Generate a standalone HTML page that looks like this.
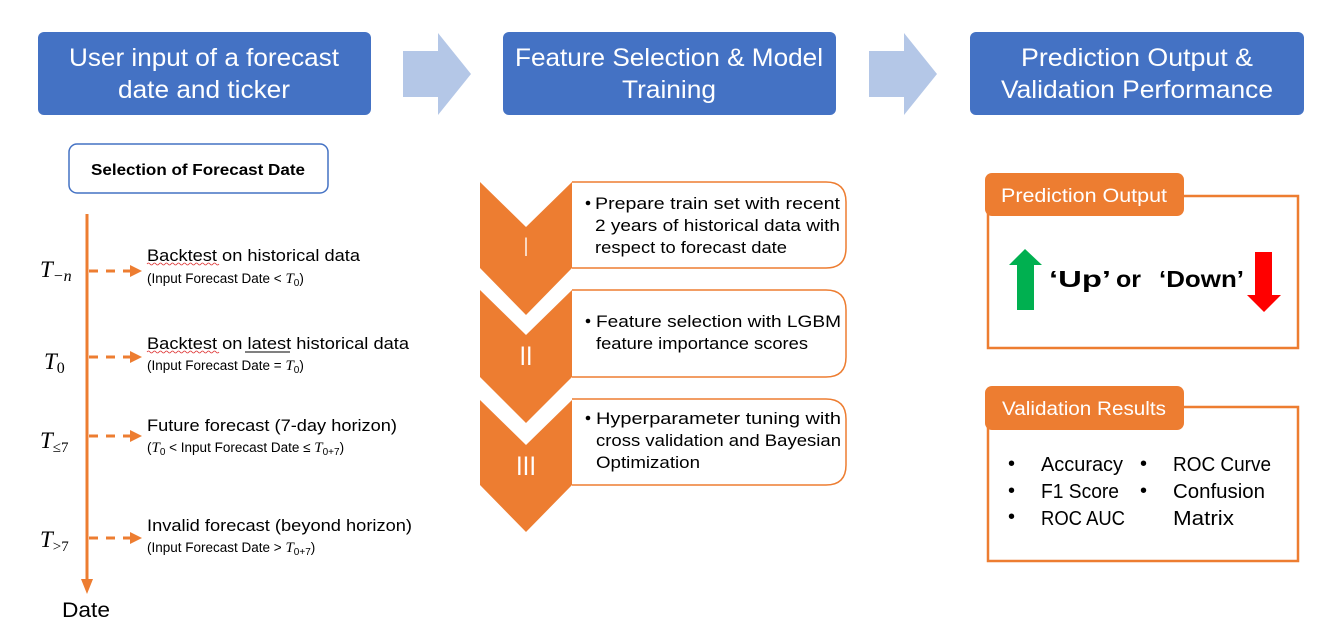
<!DOCTYPE html>
<html><head><meta charset="utf-8"><style>
html,body{margin:0;padding:0;background:#fff;}
svg{display:block;font-family:"Liberation Sans",sans-serif;}
.m{font-family:"Liberation Serif",serif;font-style:italic;}
</style></head><body>
<svg width="1321" height="636" viewBox="0 0 1321 636" xmlns="http://www.w3.org/2000/svg">
<defs><marker id="ah" markerWidth="12" markerHeight="12" refX="10" refY="6" orient="auto" markerUnits="userSpaceOnUse"><path d="M0,0 L12,6 L0,12 Z" fill="#ED7D31"/></marker></defs>
<rect x="38" y="32" width="333" height="83" rx="6" fill="#4472C4"/>
<rect x="503" y="32" width="333" height="83" rx="6" fill="#4472C4"/>
<rect x="970" y="32" width="334" height="83" rx="6" fill="#4472C4"/>
<g fill="#fff" font-size="25" text-anchor="middle">
<text x="204" y="66" textLength="270" lengthAdjust="spacingAndGlyphs">User input of a forecast</text>
<text x="204" y="98" textLength="172" lengthAdjust="spacingAndGlyphs">date and ticker</text>
<text x="669" y="66" textLength="308" lengthAdjust="spacingAndGlyphs">Feature Selection &amp; Model</text>
<text x="669" y="98" textLength="94" lengthAdjust="spacingAndGlyphs">Training</text>
<text x="1137" y="66" textLength="232" lengthAdjust="spacingAndGlyphs">Prediction Output &amp;</text>
<text x="1137" y="98" textLength="272" lengthAdjust="spacingAndGlyphs">Validation Performance</text>
</g>
<path d="M403,51 L438,51 L438,33 L471,74 L438,115 L438,97 L403,97 Z" fill="#B4C7E7"/>
<path d="M869,51 L904,51 L904,33 L937,74 L904,115 L904,97 L869,97 Z" fill="#B4C7E7"/>
<rect x="69" y="144" width="259" height="49" rx="8" fill="#fff" stroke="#4472C4" stroke-width="1.5"/>
<text x="198" y="175" font-size="16" font-weight="bold" text-anchor="middle" textLength="214" lengthAdjust="spacingAndGlyphs">Selection of Forecast Date</text>
<line x1="87" y1="214" x2="87" y2="580" stroke="#ED7D31" stroke-width="3"/>
<path d="M81,579 L93,579 L87,594 Z" fill="#ED7D31"/>
<text x="62" y="617" font-size="21" textLength="48" lengthAdjust="spacingAndGlyphs">Date</text>
<g stroke="#ED7D31" stroke-width="3" stroke-dasharray="9,8" marker-end="url(#ah)">
<line x1="89" y1="271" x2="140" y2="271"/>
<line x1="89" y1="357" x2="140" y2="357"/>
<line x1="89" y1="436" x2="140" y2="436"/>
<line x1="89" y1="538" x2="140" y2="538"/>
</g>
<g font-size="23" class="m">
<text x="40" y="277">T<tspan font-size="16" dy="4">−n</tspan></text>
<text x="44" y="369">T<tspan font-size="16" dy="4" font-style="normal">0</tspan></text>
<text x="40" y="448">T<tspan font-size="15" dy="4" font-style="normal">≤7</tspan></text>
<text x="40" y="547">T<tspan font-size="15" dy="4" font-style="normal">&gt;7</tspan></text>
</g>
<g font-size="17">
<text x="147" y="261" textLength="213" lengthAdjust="spacingAndGlyphs">Backtest on historical data</text>
<text x="147" y="349" textLength="262" lengthAdjust="spacingAndGlyphs">Backtest on latest historical data</text>
<line x1="245" y1="352" x2="290" y2="352" stroke="#000" stroke-width="1"/>
<text x="147" y="431" textLength="250" lengthAdjust="spacingAndGlyphs">Future forecast (7-day horizon)</text>
<text x="147" y="531" textLength="265" lengthAdjust="spacingAndGlyphs">Invalid forecast (beyond horizon)</text>
</g>
<path d="M147,264 q1.5,-2 3,0 t3,0 t3,0 t3,0 t3,0 t3,0 t3,0 t3,0 t3,0 t3,0 t3,0 t3,0 t3,0 t3,0 t3,0 t3,0 t3,0 t3,0 t3,0 t3,0 t3,0 t3,0 t3,0 t3,0" fill="none" stroke="#d33" stroke-width="0.8"/>
<path d="M147,352 q1.5,-2 3,0 t3,0 t3,0 t3,0 t3,0 t3,0 t3,0 t3,0 t3,0 t3,0 t3,0 t3,0 t3,0 t3,0 t3,0 t3,0 t3,0 t3,0 t3,0 t3,0 t3,0 t3,0 t3,0 t3,0" fill="none" stroke="#d33" stroke-width="0.8"/>
<g font-size="13.5">
<text x="147" y="283">(Input Forecast Date &lt; <tspan class="m" font-size="15">T</tspan><tspan font-size="10" dy="3">0</tspan><tspan dy="-3">)</tspan></text>
<text x="147" y="370">(Input Forecast Date = <tspan class="m" font-size="15">T</tspan><tspan font-size="10" dy="3">0</tspan><tspan dy="-3">)</tspan></text>
<text x="147" y="452">(<tspan class="m" font-size="15">T</tspan><tspan font-size="10" dy="3">0</tspan><tspan dy="-3"> &lt; Input Forecast Date ≤ </tspan><tspan class="m" font-size="15">T</tspan><tspan font-size="10" dy="3">0+7</tspan><tspan dy="-3">)</tspan></text>
<text x="147" y="552">(Input Forecast Date &gt; <tspan class="m" font-size="15">T</tspan><tspan font-size="10" dy="3">0+7</tspan><tspan dy="-3">)</tspan></text>
</g>
<g fill="#ED7D31">
<path d="M480,182 L526,227 L572,182 L572,268 L526,315 L480,268 Z"/>
<path d="M480,290 L526,335 L572,290 L572,377 L526,423 L480,377 Z"/>
<path d="M480,400 L526,445 L572,400 L572,485 L526,532 L480,485 Z"/>
</g>
<g fill="#fff" font-size="27" text-anchor="middle">
<text x="526" y="256" textLength="4" lengthAdjust="spacingAndGlyphs">I</text>
<text x="526" y="365" textLength="13" lengthAdjust="spacingAndGlyphs">II</text>
<text x="526" y="475" textLength="20" lengthAdjust="spacingAndGlyphs">III</text>
</g>
<g fill="#fff" stroke="#ED7D31" stroke-width="1.5">
<path d="M572,182 L826,182 Q846,182 846,202 L846,248 Q846,268 826,268 L572,268"/>
<path d="M572,290 L826,290 Q846,290 846,310 L846,357 Q846,377 826,377 L572,377"/>
<path d="M572,399 L826,399 Q846,399 846,419 L846,465 Q846,485 826,485 L572,485"/>
</g>
<g font-size="17">
<circle cx="588" cy="203" r="2.3"/>
<text x="595" y="209" textLength="245" lengthAdjust="spacingAndGlyphs">Prepare train set with recent</text>
<text x="595" y="231" textLength="245" lengthAdjust="spacingAndGlyphs">2 years of historical data with</text>
<text x="595" y="253" textLength="192" lengthAdjust="spacingAndGlyphs">respect to forecast date</text>
<circle cx="588" cy="321" r="2.3"/>
<text x="596" y="327" textLength="245" lengthAdjust="spacingAndGlyphs">Feature selection with LGBM</text>
<text x="596" y="349" textLength="212" lengthAdjust="spacingAndGlyphs">feature importance scores</text>
<circle cx="588" cy="418" r="2.3"/>
<text x="596" y="424" textLength="245" lengthAdjust="spacingAndGlyphs">Hyperparameter tuning with</text>
<text x="596" y="446" textLength="245" lengthAdjust="spacingAndGlyphs">cross validation and Bayesian</text>
<text x="596" y="468" textLength="104" lengthAdjust="spacingAndGlyphs">Optimization</text>
</g>
<rect x="988" y="196" width="310" height="152" fill="none" stroke="#ED7D31" stroke-width="2.5"/>
<rect x="985" y="173" width="199" height="43" rx="7" fill="#ED7D31"/>
<text x="1001" y="202" font-size="19" fill="#fff" textLength="166" lengthAdjust="spacingAndGlyphs">Prediction Output</text>
<path d="M1017,310 L1017,265 L1009,265 L1025,249 L1042,265 L1034,265 L1034,310 Z" fill="#00B050"/>
<path d="M1255,252 L1272,252 L1272,295 L1281,295 L1264,312 L1247,295 L1255,295 Z" fill="#FF0000"/>
<g font-size="23" font-weight="bold">
<text x="1049" y="287" textLength="62" lengthAdjust="spacingAndGlyphs">‘Up’</text>
<text x="1116" y="287" textLength="25" lengthAdjust="spacingAndGlyphs">or</text>
<text x="1159" y="287" textLength="85" lengthAdjust="spacingAndGlyphs">‘Down’</text>
</g>
<rect x="988" y="407" width="310" height="154" fill="none" stroke="#ED7D31" stroke-width="2.5"/>
<rect x="985" y="386" width="199" height="44" rx="7" fill="#ED7D31"/>
<text x="1002" y="415" font-size="19" fill="#fff" textLength="164" lengthAdjust="spacingAndGlyphs">Validation Results</text>
<g font-size="20">
<text x="1008" y="470">•</text><text x="1008" y="497">•</text><text x="1008" y="523">•</text>
<text x="1140" y="470">•</text><text x="1140" y="497">•</text>
<text x="1041" y="471" textLength="82" lengthAdjust="spacingAndGlyphs">Accuracy</text>
<text x="1041" y="498" textLength="78" lengthAdjust="spacingAndGlyphs">F1 Score</text>
<text x="1041" y="525" textLength="84" lengthAdjust="spacingAndGlyphs">ROC AUC</text>
<text x="1173" y="471" textLength="98" lengthAdjust="spacingAndGlyphs">ROC Curve</text>
<text x="1173" y="498" textLength="92" lengthAdjust="spacingAndGlyphs">Confusion</text>
<text x="1173" y="525" textLength="61" lengthAdjust="spacingAndGlyphs">Matrix</text>
</g>
</svg>
</body></html>
